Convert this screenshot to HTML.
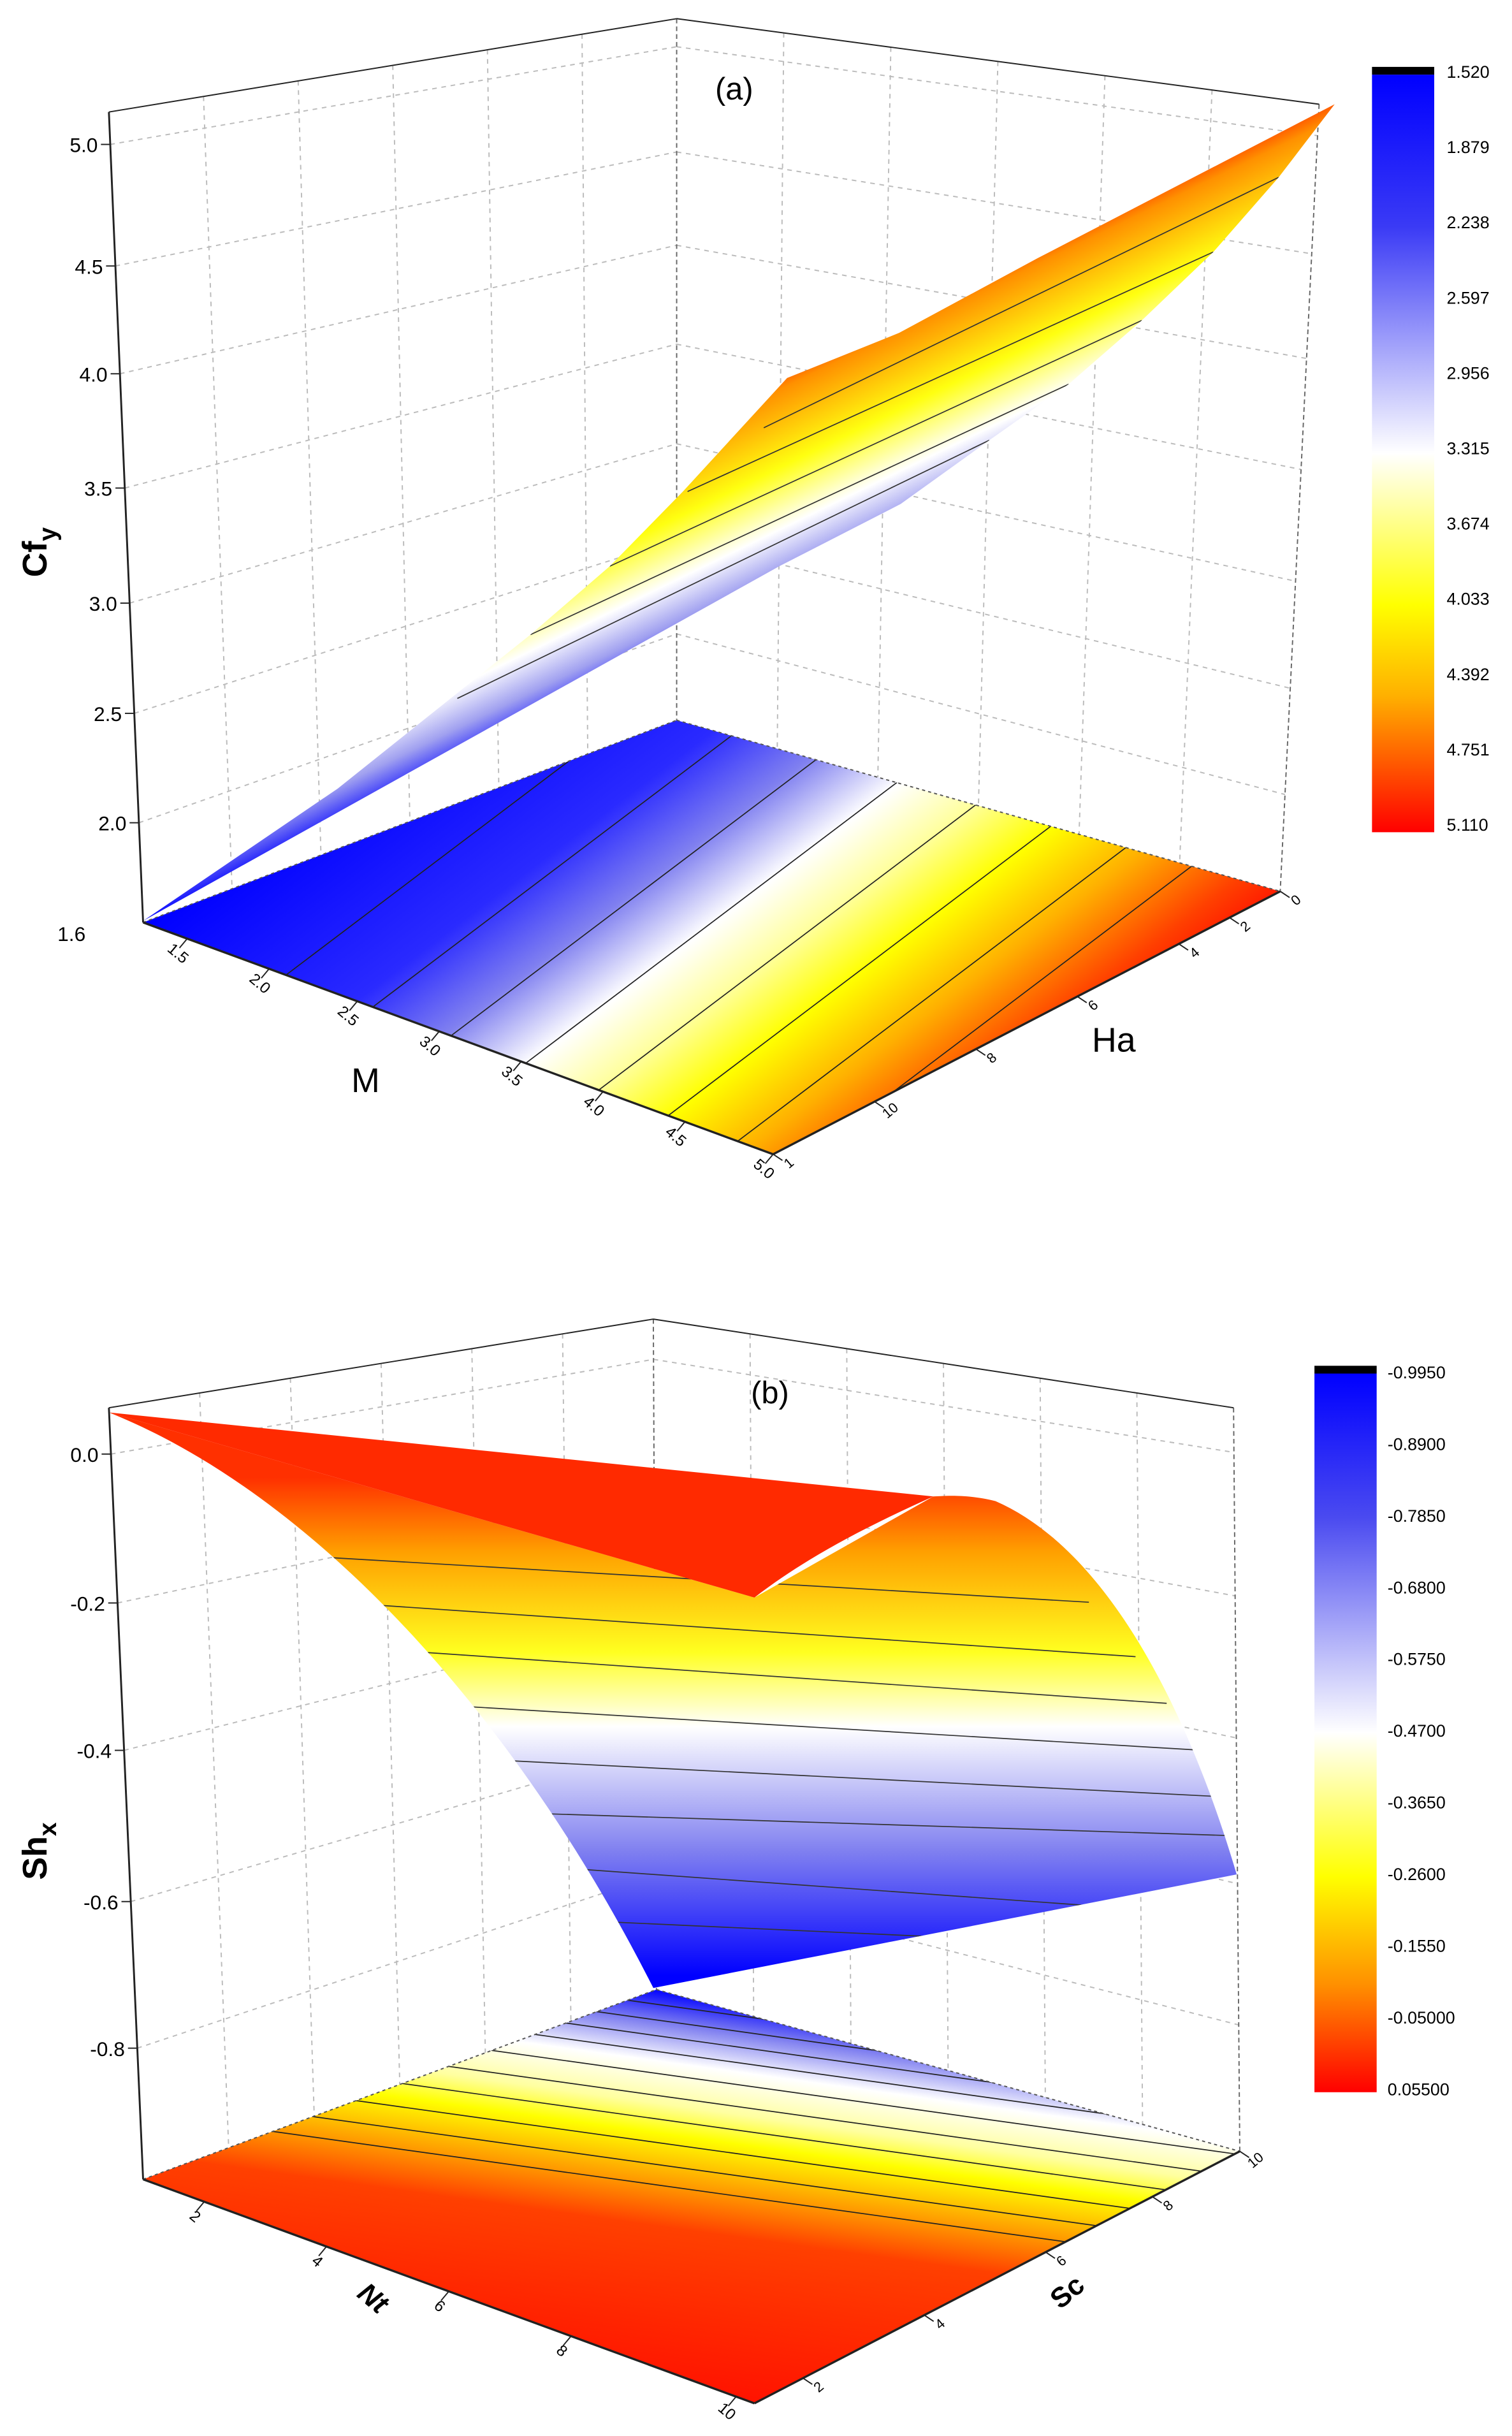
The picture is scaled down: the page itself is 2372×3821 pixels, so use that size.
<!DOCTYPE html>
<html><head><meta charset="utf-8"><style>
html,body{margin:0;padding:0;background:#fff;overflow:hidden;width:2372px;height:3821px}
svg{display:block}
text{font-family:"Liberation Sans",sans-serif}
</style></head><body>
<svg id="s" width="2372" height="3821" viewBox="0 0 972 1566" preserveAspectRatio="none" xmlns="http://www.w3.org/2000/svg" overflow="hidden">
<defs>
<linearGradient id="cb1" x1="0" y1="0" x2="0" y2="1">
<stop offset="0" stop-color="#0000ff"/><stop offset="0.2" stop-color="#3a3af5"/><stop offset="0.5" stop-color="#ffffff"/><stop offset="0.7" stop-color="#ffff00"/><stop offset="0.82" stop-color="#ffb000"/><stop offset="1" stop-color="#ff0000"/></linearGradient>
<linearGradient id="cb2" x1="0" y1="0" x2="0" y2="1">
<stop offset="0" stop-color="#0000ff"/><stop offset="0.2" stop-color="#4a4af0"/><stop offset="0.5" stop-color="#ffffff"/><stop offset="0.7" stop-color="#ffff00"/><stop offset="0.85" stop-color="#ff9000"/><stop offset="1" stop-color="#ff0000"/></linearGradient>
<linearGradient id="fa" gradientUnits="userSpaceOnUse" x1="320.1" y1="423.3" x2="579.9" y2="766.7">
<stop offset="0" stop-color="#0000ff"/><stop offset="0.28" stop-color="#2a2aff"/><stop offset="0.4" stop-color="#8080f0"/><stop offset="0.51" stop-color="#ffffff"/><stop offset="0.6" stop-color="#ffffa0"/><stop offset="0.7" stop-color="#ffff00"/><stop offset="0.81" stop-color="#ffb000"/><stop offset="0.93" stop-color="#ff4000"/><stop offset="1" stop-color="#ff1000"/></linearGradient>
<linearGradient id="sa" gradientUnits="userSpaceOnUse" x1="185.9" y1="382.3" x2="251.6" y2="517.2">
<stop offset="0" stop-color="#ff2000"/><stop offset="0.13" stop-color="#ff9000"/><stop offset="0.43" stop-color="#ffff10"/><stop offset="0.67" stop-color="#ffffff"/><stop offset="0.83" stop-color="#a0a0f0"/><stop offset="1" stop-color="#0000ff"/></linearGradient>
<linearGradient id="sb" gradientUnits="userSpaceOnUse" x1="0" y1="950" x2="0" y2="1270">
<stop offset="0" stop-color="#ff3000"/><stop offset="0.15" stop-color="#ffa000"/><stop offset="0.35" stop-color="#ffff20"/><stop offset="0.5" stop-color="#ffffff"/><stop offset="0.75" stop-color="#8080f0"/><stop offset="1" stop-color="#0000ff"/></linearGradient>
<linearGradient id="fb" gradientUnits="userSpaceOnUse" x1="-165.5" y1="1188.5" x2="-202.7" y2="1455.9">
<stop offset="0" stop-color="#0000ff"/><stop offset="0.03" stop-color="#0000ff"/><stop offset="0.11" stop-color="#8080f0"/><stop offset="0.2" stop-color="#ffffff"/><stop offset="0.3" stop-color="#ffffa0"/><stop offset="0.37" stop-color="#ffff00"/><stop offset="0.48" stop-color="#ffa000"/><stop offset="0.59" stop-color="#ff4000"/><stop offset="1" stop-color="#ff1000"/></linearGradient>
<clipPath id="cfa"><polygon points="92,593 435,463 823,573 497,742"/></clipPath>
<clipPath id="csa"><polygon points="92,592 217,507 341,408 392,364 439,316 506,243 578,214 667,166 858,67 822,114 780,162 734,206 687,247 636,283 579,324 501,364"/></clipPath>
<clipPath id="cfb"><polygon points="92,1401 422,1279 797,1383 485,1545"/></clipPath>
<clipPath id="csb"><path d="M70,908 C200,960 330,1100 420,1278 L795,1205 C770,1120 720,1000 640,965 C620,960 605,962 600,962 L485,1027 Z"/></clipPath>
</defs>
<g id="g"></g>
<polygon points="92,593 435,463 823,573 497,742" fill="url(#fa)"/>
<polygon points="92,592 217,507 341,408 392,364 439,316 506,243 578,214 667,166 858,67 822,114 780,162 734,206 687,247 636,283 579,324 501,364" fill="url(#sa)"/>
<g id="la" clip-path="url(#cfa)" stroke="#333" stroke-width="0.7"></g>
<g clip-path="url(#csa)" stroke="#333" stroke-width="0.7">
<line x1="491" y1="275" x2="822" y2="114"/><line x1="442" y1="316" x2="780" y2="162"/><line x1="392" y1="364" x2="734" y2="206"/><line x1="341" y1="408" x2="687" y2="247"/><line x1="294" y1="449" x2="636" y2="283"/>
</g>
<text x="472" y="64" font-family="Liberation Serif" font-size="20" text-anchor="middle">(a)</text>
<text x="235" y="702" font-family="Liberation Serif" font-size="22" text-anchor="middle">M</text>
<text x="716" y="676" font-family="Liberation Serif" font-size="22" text-anchor="middle">Ha</text>
<text transform="translate(30,355) rotate(-90)" font-size="22" font-weight="bold" text-anchor="middle">Cf<tspan font-size="16" dy="6">y</tspan></text>
<rect x="882" y="43" width="40" height="5" fill="#000"/><rect x="882" y="48" width="40" height="487" fill="url(#cb1)"/>
<polygon points="92,1401 422,1279 797,1383 485,1545" fill="url(#fb)"/>
<path d="M70,908 C200,960 330,1100 420,1278 L795,1205 C770,1120 720,1000 640,965 C620,960 605,962 600,962 L485,1027 Z" fill="url(#sb)"/>
<path d="M70,908 L600,962 C560,980 520,1000 485,1027 Z" fill="#ff2a00"/>
<g clip-path="url(#csb)" stroke="#333" stroke-width="0.7" fill="none">
<line x1="190" y1="1000" x2="700" y2="1030"/><line x1="215" y1="1030" x2="730" y2="1065"/><line x1="240" y1="1060" x2="750" y2="1095"/><line x1="265" y1="1095" x2="770" y2="1125"/><line x1="290" y1="1130" x2="785" y2="1155"/><line x1="320" y1="1165" x2="790" y2="1180"/><line x1="350" y1="1200" x2="700" y2="1225"/><line x1="380" y1="1235" x2="600" y2="1245"/>
</g>
<g id="lb" clip-path="url(#cfb)" stroke="#333" stroke-width="0.7"></g>
<text x="495" y="902" font-family="Liberation Serif" font-size="20" text-anchor="middle">(b)</text>
<text transform="translate(236,1482) rotate(40)" font-size="18" font-weight="bold" font-style="italic" text-anchor="middle">Nt</text>
<text transform="translate(690,1478) rotate(-40)" font-size="18" font-weight="bold" text-anchor="middle">Sc</text>
<text transform="translate(30,1190) rotate(-90)" font-size="22" font-weight="bold" text-anchor="middle">Sh<tspan font-size="16" dy="6">x</tspan></text>
<rect x="845" y="878" width="40" height="5" fill="#000"/><rect x="845" y="883" width="40" height="462" fill="url(#cb2)"/>
</svg>
<script>
var NS='http://www.w3.org/2000/svg',S=document.getElementById('s');
function el(t,a,txt,par){var e=document.createElementNS(NS,t);for(var k in a)e.setAttribute(k,a[k]);if(txt!==undefined&&txt!==null)e.textContent=txt;(par||S).appendChild(e);return e;}
function line(x1,y1,x2,y2,dash,w,par){el('line',{x1:x1,y1:y1,x2:x2,y2:y2,stroke:dash?'#bbb':'#222','stroke-width':w||0.8,'stroke-dasharray':dash?'3,3':'none'},null,par);}
function lerp(a,b,t){return [a[0]+(b[0]-a[0])*t,a[1]+(b[1]-a[1])*t];}
var G=document.getElementById('g');
function panel(P,yt,ticksY,xt,zt,cb){
 var i,t;
 for(i=0;i<yt.length;i++){t=yt[i];var L=lerp(P.FL,P.TL,t),B=lerp(P.FB,P.BT,t),R=lerp(P.FR,P.RT,t);line(L[0],L[1],B[0],B[1],1,0.8,G);line(B[0],B[1],R[0],R[1],1,0.8,G);
  line(L[0],L[1],L[0]-6,L[1]);el('text',{x:L[0]-8,y:L[1]+5,'font-size':13,'text-anchor':'end'},ticksY[i]);}
 for(i=1;i<6;i++){t=i/6;var a=lerp(P.TL,P.BT,t),b=lerp(P.FL,P.FB,t);line(a[0],a[1],b[0],b[1],1,0.8,G);a=lerp(P.BT,P.RT,t);b=lerp(P.FB,P.FR,t);line(a[0],a[1],b[0],b[1],1,0.8,G);}
 line(P.TL[0],P.TL[1],P.BT[0],P.BT[1]);line(P.BT[0],P.BT[1],P.RT[0],P.RT[1]);line(P.TL[0],P.TL[1],P.FL[0],P.FL[1],0,1.2);
 el('line',{x1:P.BT[0],y1:P.BT[1],x2:P.FB[0],y2:P.FB[1],stroke:'#666','stroke-dasharray':'3,2','stroke-width':0.8},null,G);
 el('line',{x1:P.RT[0],y1:P.RT[1],x2:P.FR[0],y2:P.FR[1],stroke:'#666','stroke-dasharray':'3,2','stroke-width':0.8},null,G);
 el('line',{x1:P.FL[0],y1:P.FL[1],x2:P.FB[0],y2:P.FB[1],stroke:'#555','stroke-dasharray':'2,2','stroke-width':0.8});
 el('line',{x1:P.FB[0],y1:P.FB[1],x2:P.FR[0],y2:P.FR[1],stroke:'#555','stroke-dasharray':'2,2','stroke-width':0.8});
 line(P.FL[0],P.FL[1],P.FF[0],P.FF[1],0,1.4);line(P.FF[0],P.FF[1],P.FR[0],P.FR[1],0,1.4);
 for(i=0;i<xt.length;i++){t=xt[i][0];var p=lerp(P.FL,P.FF,t);line(p[0],p[1],p[0]-5,p[1]+6);el('text',{transform:'translate('+(p[0]-8)+','+(p[1]+12)+') rotate(40)','font-size':10,'text-anchor':'middle'},xt[i][1]);}
 for(i=0;i<zt.length;i++){t=zt[i][0];var p=lerp(P.FF,P.FR,t);line(p[0],p[1],p[0]+6,p[1]+4);el('text',{transform:'translate('+(p[0]+12)+','+(p[1]+8)+') rotate(-40)','font-size':9,'text-anchor':'middle'},zt[i][1]);}
 for(i=0;i<cb.l.length;i++){el('text',{x:cb.x,y:cb.y0+i*cb.dy+4,'font-size':11},cb.l[i]);}
}
panel({TL:[70,72],BT:[435,12],RT:[848,67],FL:[92,593],FB:[435,463],FR:[823,573],FF:[497,742]},
 [0.96,0.81,0.677,0.536,0.394,0.258,0.123],['5.0','4.5','4.0','3.5','3.0','2.5','2.0'],
 [[0.07,'1.5'],[0.2,'2.0'],[0.34,'2.5'],[0.47,'3.0'],[0.6,'3.5'],[0.73,'4.0'],[0.86,'4.5'],[1,'5.0']],
 [[0,'1'],[0.2,'10'],[0.4,'8'],[0.6,'6'],[0.8,'4'],[0.9,'2'],[1,'0']],
 {x:930,y0:46,dy:48.4,l:['1.520','1.879','2.238','2.597','2.956','3.315','3.674','4.033','4.392','4.751','5.110']});
el('text',{x:55,y:605,'font-size':13,'text-anchor':'end'},'1.6');
panel({TL:[70,905],BT:[420,848],RT:[793,905],FL:[92,1401],FB:[422,1279],FR:[797,1383],FF:[485,1545]},
 [0.94,0.747,0.556,0.36,0.17],['0.0','-0.2','-0.4','-0.6','-0.8'],
 [[0.1,'2'],[0.3,'4'],[0.5,'6'],[0.7,'8'],[0.97,'10']],
 [[0.1,'2'],[0.35,'4'],[0.6,'6'],[0.82,'8'],[1,'10']],
 {x:892,y0:882,dy:46.1,l:['-0.9950','-0.8900','-0.7850','-0.6800','-0.5750','-0.4700','-0.3650','-0.2600','-0.1550','-0.05000','0.05500']});
function iso(par,u,d,ps){for(var i=0;i<ps.length;i++){var p=ps[i],cx=u[0]*p,cy=u[1]*p;line(cx-2000*d[0],cy-2000*d[1],cx+2000*d[0],cy+2000*d[1],0,0.7,par);}}
iso(document.getElementById('la'),[180/298,238/298],[238/298,-180/298],[610,660,705,748,790,830,870,905]);
iso(document.getElementById('lb'),[-66/478.6,474/478.6],[474/478.6,66/478.6],[1218,1228,1238,1248,1262,1276,1291,1306,1320,1333]);
</script>
</body></html>
